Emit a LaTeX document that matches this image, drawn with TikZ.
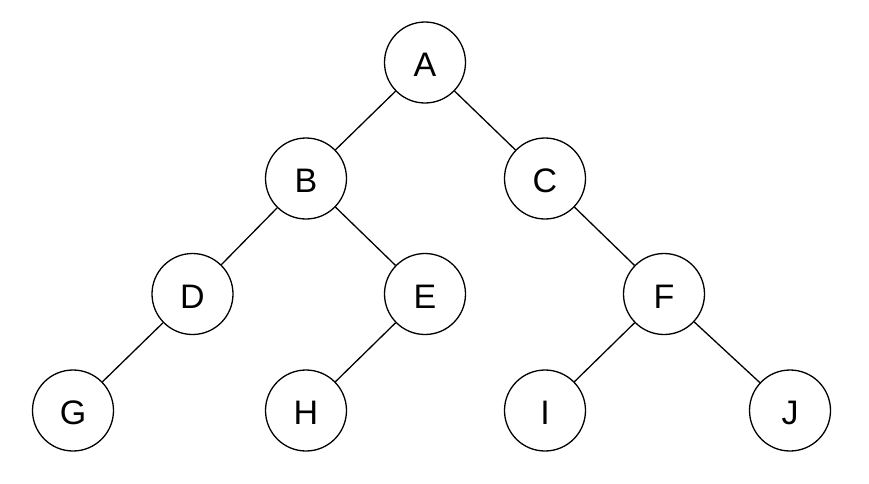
\documentclass[tikz,border=0pt]{standalone}
\usepackage{fontspec}
\setmainfont{Liberation Sans}
\begin{document}
\begin{tikzpicture}[x=1pt,y=-1pt,
  tnode/.style={circle,draw,line width=1.3pt,minimum size=81pt,inner sep=0pt,
    font=\fontsize{34}{40}\selectfont,text=black,text height=28.5pt,text depth=0pt},
  edge/.style={line width=1.3pt}]
\useasboundingbox (0,0) rectangle (869,483);
\node[tnode] (A) at (425,62.5) {A};
\node[tnode] (B) at (306,178.5) {B};
\node[tnode] (C) at (545,178.5) {C};
\node[tnode] (D) at (192.5,294) {D};
\node[tnode] (E) at (425,294) {E};
\node[tnode] (F) at (664,294) {F};
\node[tnode] (G) at (73,410.5) {G};
\node[tnode] (H) at (306,410.5) {H};
\node[tnode] (I) at (545,410.5) {I};
\node[tnode] (J) at (790,410.5) {J};
\draw[edge] (A) -- (B);
\draw[edge] (A) -- (C);
\draw[edge] (B) -- (D);
\draw[edge] (B) -- (E);
\draw[edge] (C) -- (F);
\draw[edge] (D) -- (G);
\draw[edge] (E) -- (H);
\draw[edge] (F) -- (I);
\draw[edge] (F) -- (J);
\end{tikzpicture}
\end{document}
